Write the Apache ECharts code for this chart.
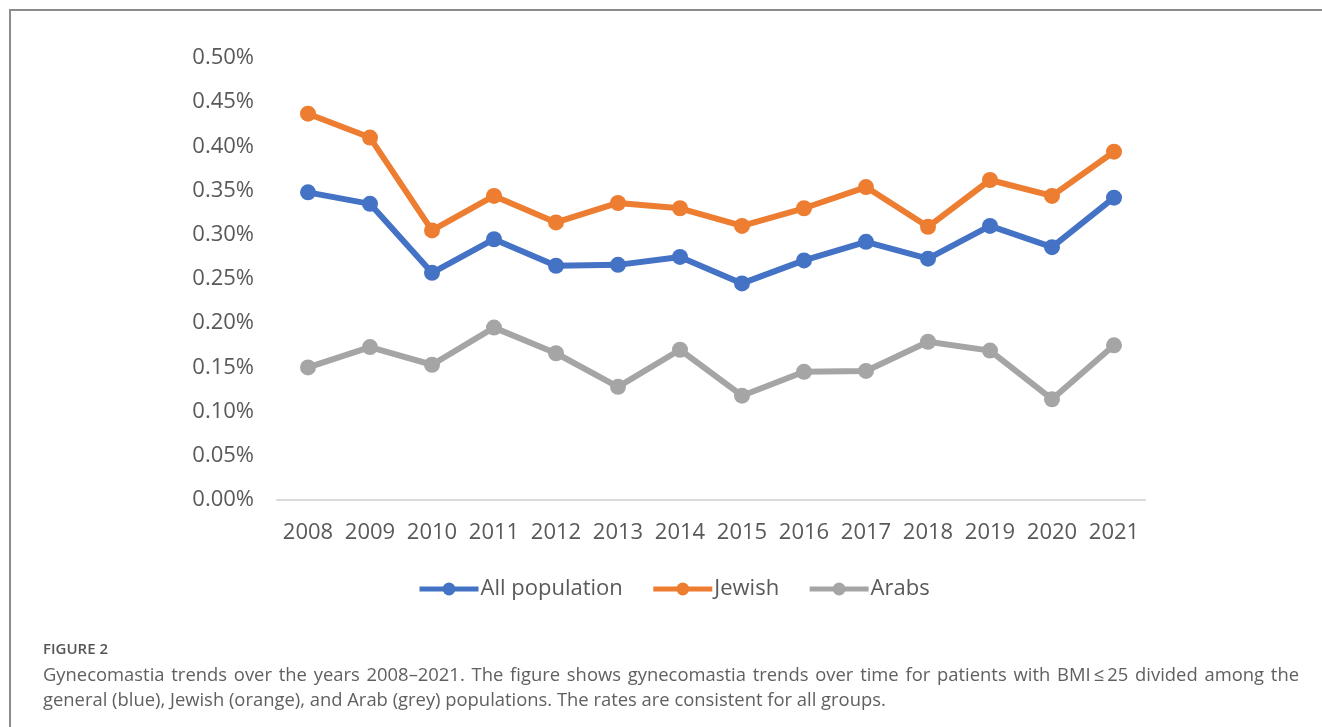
<!DOCTYPE html>
<html>
<head>
<meta charset="utf-8">
<title>Gynecomastia trends 2008–2021</title>
<script src="https://cdn.jsdelivr.net/npm/echarts@6/dist/echarts.min.js"></script>
<style>
  html, body { margin: 0; padding: 0; background: #fff; }
  #wrap { position: relative; width: 1322px; height: 727px; overflow: hidden; }
  #frame { position: absolute; left: 9px; top: 9px; right: 0; bottom: 0;
           border-top: 2px solid #8c8c8c; border-left: 2px solid #8c8c8c; }
  #chart { position: absolute; left: 0; top: 0; width: 1322px; height: 727px; }
  #caption { position: absolute; left: 43px; top: 638px; width: 1256px;
             font-family: "Open Sans", Lato, sans-serif; color: #606060; }
  #caption .fig { font-family: "Open Sans", sans-serif; font-weight: 600; font-size: 15px;
                  color: #555; margin-bottom: 3px; line-height: 20px; }
  #caption .l1 { font-size: 18.4px; line-height: 25px; text-align: justify; text-align-last: justify; white-space: nowrap; }
  #caption .l2 { font-size: 18.4px; line-height: 25px; white-space: nowrap; }
</style>
</head>
<body>
<div id="wrap">
  <div id="frame"></div>
  <div id="chart"></div>
  <div id="caption">
    <div class="fig">FIGURE 2</div>
    <div class="l1">Gynecomastia trends over the years 2008–2021. The figure shows gynecomastia trends over time for patients with BMI&#8201;≤&#8201;25 divided among the</div>
    <div class="l2">general (blue), Jewish (orange), and Arab (grey) populations. The rates are consistent for all groups.</div>
  </div>
</div>
<script>
// Years on the category axis
const years = ['2008', '2009', '2010', '2011', '2012', '2013', '2014',
               '2015', '2016', '2017', '2018', '2019', '2020', '2021'];

// Gynecomastia rate (%) by year
const allPopulation = [0.348, 0.335, 0.257, 0.295, 0.265, 0.266, 0.275,
                       0.245, 0.271, 0.292, 0.273, 0.310, 0.286, 0.342];
const jewish        = [0.437, 0.410, 0.305, 0.344, 0.314, 0.336, 0.330,
                       0.310, 0.330, 0.354, 0.309, 0.362, 0.344, 0.394];
const arabs         = [0.150, 0.173, 0.153, 0.195, 0.166, 0.128, 0.170,
                       0.118, 0.145, 0.146, 0.179, 0.169, 0.114, 0.175];

const seriesNames = ['All population', 'Jewish', 'Arabs'];
const seriesColors = ['#4472C4', '#ED7D31', '#A5A5A5'];

const chart = echarts.init(document.getElementById('chart'), null, { renderer: 'canvas' });

const textFont = '"Open Sans", "Noto Sans", sans-serif';

function lineSeries(name, data, color) {
  return {
    name: name,
    type: 'line',
    data: data,
    symbol: 'circle',
    symbolSize: 16,
    lineStyle: { width: 6, color: color },
    itemStyle: { color: color },
    emphasis: { disabled: true },
    animation: false
  };
}

chart.setOption({
  backgroundColor: 'transparent',
  color: seriesColors,
  grid: { left: 277, right: 177, top: 58, bottom: 227, containLabel: false },
  xAxis: {
    type: 'category',
    data: years,
    boundaryGap: true,
    axisLine: { show: true, lineStyle: { color: '#d9d9d9', width: 2 } },
    axisTick: { show: false },
    axisLabel: { interval: 0, color: '#595959', fontSize: 22, fontFamily: textFont, margin: 22 }
  },
  yAxis: {
    type: 'value',
    min: 0,
    max: 0.5,
    interval: 0.05,
    axisLine: { show: false },
    axisTick: { show: false },
    splitLine: { show: false },
    axisLabel: {
      color: '#595959', fontSize: 22, fontFamily: textFont, margin: 23,
      formatter: v => v.toFixed(2) + '%'
    }
  },
  legend: {
    left: 417,
    top: 578,
    itemWidth: 59,
    itemHeight: 16,
    itemGap: 28,
    padding: 0,
    lineStyle: { width: 5 },
    textStyle: { color: '#595959', fontSize: 22, fontFamily: textFont, padding: [0, 0, 0, -3] },
    data: seriesNames
  },
  series: [
    lineSeries(seriesNames[0], allPopulation, seriesColors[0]),
    lineSeries(seriesNames[1], jewish, seriesColors[1]),
    lineSeries(seriesNames[2], arabs, seriesColors[2])
  ]
});
</script>
</body>
</html>
